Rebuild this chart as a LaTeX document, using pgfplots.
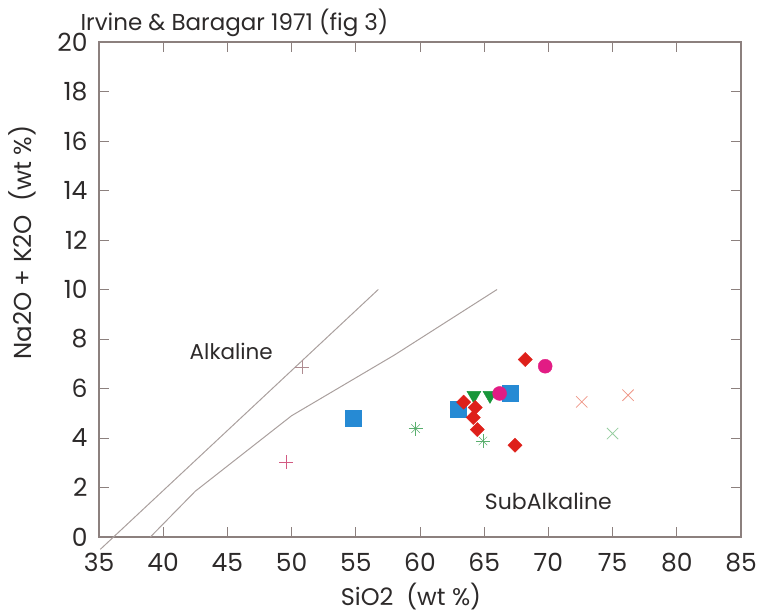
\documentclass[border=0pt]{standalone}
\usepackage{pgfplots}
\pgfplotsset{compat=1.18}
\usepackage{fontspec}
\setmainfont{Poppins}
\definecolor{axisgray}{RGB}{140,128,126}
\definecolor{linegray}{RGB}{170,160,158}
\definecolor{labelgray}{RGB}{45,42,42}
\definecolor{sqblue}{RGB}{38,138,212}
\definecolor{dred}{RGB}{222,32,26}
\definecolor{mag}{RGB}{226,28,132}
\definecolor{tgreen}{RGB}{24,150,58}
\definecolor{pplus}{RGB}{210,90,130}
\definecolor{gplus}{RGB}{175,140,145}
\definecolor{salmon}{RGB}{238,150,135}
\definecolor{lgreen}{RGB}{150,205,160}
\definecolor{sgreen}{RGB}{90,175,110}
\begin{document}
\begin{tikzpicture}
\begin{axis}[name=ax, at={(0,0)}, anchor=south west,
  scale only axis, width=642pt, height=495pt,
  xmin=35, xmax=85, ymin=0, ymax=20,
  xtick={35,40,...,85}, ytick={0,2,...,20},
  tick pos=both, xticklabel pos=left, yticklabel pos=left,
  tick align=inside, major tick length=10pt,
  axis line style={draw=axisgray, line width=1.2pt},
  every tick/.style={draw=axisgray, line width=0.9pt},
  /pgf/number format/assume math mode=true,
  ticklabel style={font=\fontsize{25}{27}\selectfont, text=labelgray},
  xticklabel style={yshift=-13pt},
  yticklabel style={xshift=-8pt},
  xlabel={SiO2\ \ (wt \%)}, ylabel={Na2O + K2O\ \ (wt \%)},
  label style={font=\fontsize{24}{26}\selectfont, text=labelgray},
  xlabel style={yshift=-4pt, xshift=-9pt},
  ylabel style={font=\fontsize{24.5}{26}\selectfont, yshift=14pt, xshift=47pt},
  clip=false,
]
% boundary lines
\addplot[linegray, line width=1pt, no marks] coordinates {(35.1,-0.5) (56.75,10)};
\addplot[linegray, line width=1pt, no marks] coordinates {(39.0,0) (42.5,1.85) (50,4.9) (58,7.35) (66,10)};
% pluses
\addplot[only marks, mark=+, mark size=7pt, pplus, line width=0.6pt] coordinates {(49.6,3.03)};
\addplot[only marks, mark=+, mark size=7pt, gplus, line width=0.6pt] coordinates {(50.8,6.85)};
% green stars
\addplot[only marks, mark=+, mark size=7pt, sgreen, line width=0.5pt] coordinates {(59.66,4.38) (64.9,3.88)};
\addplot[only marks, mark=x, mark size=6pt, sgreen, line width=0.5pt] coordinates {(59.66,4.38) (64.9,3.88)};
% x marks
\addplot[only marks, mark=x, mark size=8pt, salmon, line width=0.8pt] coordinates {(72.6,5.46) (76.2,5.73)};
\addplot[only marks, mark=x, mark size=8pt, lgreen, line width=0.8pt] coordinates {(75.0,4.18)};
% blue squares
\addplot[only marks, mark=square*, mark size=8pt, draw=sqblue, fill=sqblue] coordinates {(54.8,4.79) (63.0,5.15) (67.0,5.8)};
% green triangles
\addplot[only marks, mark=triangle*, mark size=8pt, draw=tgreen, fill=tgreen, mark options={rotate=180}] coordinates {(64.2,5.72) (65.45,5.72)};
% magenta circles
\addplot[only marks, mark=*, mark size=7pt, draw=mag, fill=mag] coordinates {(66.2,5.8) (69.75,6.9)};
% red diamonds
\addplot[only marks, mark=square*, mark size=5pt, draw=dred, fill=dred, mark options={rotate=45}] coordinates {(63.4,5.45) (64.3,5.23) (64.15,4.83) (64.46,4.34) (67.4,3.71) (68.2,7.17)};
% annotations
\node[font=\fontsize{21.5}{23}\selectfont, text=labelgray] at (axis cs:45.3,7.5) {Alkaline};
\node[font=\fontsize{22}{23}\selectfont, text=labelgray] at (axis cs:70.0,1.45) {SubAlkaline};
\end{axis}
\node[anchor=base west, font=\fontsize{23}{25}\selectfont, text=labelgray] at ([xshift=-22pt,yshift=11pt]ax.north west) {Irvine \& Baragar 1971 (fig 3)};
\pgfresetboundingbox
\path[use as bounding box] ([shift={(-99pt,-76pt)}]ax.south west) rectangle ([shift={(16pt,42pt)}]ax.north east);
\end{tikzpicture}
\end{document}
